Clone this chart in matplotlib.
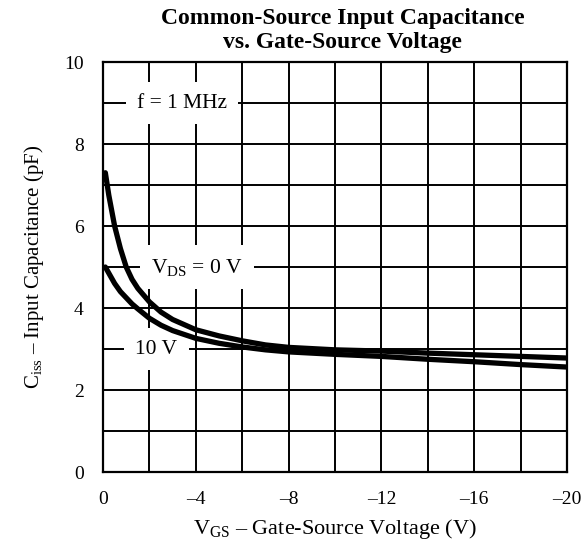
import numpy as np
import matplotlib
matplotlib.use("Agg")
import matplotlib.pyplot as plt

plt.rcParams['font.family'] = ['Liberation Serif', 'DejaVu Serif']
plt.rcParams['mathtext.fontset'] = 'custom'
plt.rcParams['mathtext.rm'] = 'Liberation Serif'
plt.rcParams['mathtext.it'] = 'Liberation Serif:italic'

# datos
vgs = [-0.1, -0.25, -0.5, -0.75, -1, -1.25, -1.5, -2, -2.5, -3, -4, -5, -6, -7, -8,
       -10, -12, -14, -16, -18, -20]
c_vds0 = [7.3, 6.75, 6.0, 5.45, 5.0, 4.7, 4.48, 4.15, 3.9, 3.72, 3.47, 3.32, 3.2, 3.1, 3.04,
          2.98, 2.95, 2.9, 2.86, 2.82, 2.78]
c_vds10 = [5.0, 4.85, 4.6, 4.4, 4.25, 4.1, 3.98, 3.75, 3.58, 3.45, 3.26, 3.14, 3.05, 2.98, 2.93,
           2.87, 2.82, 2.75, 2.69, 2.62, 2.56]

xticks = [0, -4, -8, -12, -16, -20]
xtick_labels = ["0", "–4", "–8", "–12", "–16", "–20"]
yticks = [0, 2, 4, 6, 8, 10]

fig = plt.figure(figsize=(5.83, 5.54), dpi=100)
ax = fig.add_axes([0.1767, 0.148, 0.796, 0.740])

ax.set_xlim(0, -20)
ax.set_ylim(0, 10)
for xv in np.arange(-2, -20, -2):
    ax.axvline(xv, color='black', lw=1.4, zorder=1)
for yv in np.arange(1, 10, 1):
    ax.axhline(yv, color='black', lw=1.4, zorder=1)
ax.set_xticks(xticks)
ax.set_xticklabels(xtick_labels)
ax.set_yticks(yticks)
ax.tick_params(which='both', length=0, labelsize=14)
ax.tick_params(axis='x', pad=14)
ax.tick_params(axis='y', pad=14)
for s in ax.spines.values():
    s.set_linewidth(1.6)

ax.plot(vgs, c_vds0, color='black', lw=3.8, solid_capstyle='round', zorder=5)
ax.plot(vgs, c_vds10, color='black', lw=3.8, solid_capstyle='round', zorder=5)

box = dict(facecolor='white', edgecolor='none', pad=8)
ax.text(-3.4, 9, "f = 1 MHz", ha='center', va='center', fontsize=15.5, bbox=box, zorder=4)
ax.text(-4.05, 5, r"$\mathrm{V_{DS}}$ = 0 V", ha='center', va='center', fontsize=15.5, bbox=box, zorder=4)
ax.text(-2.3, 3, "10 V", ha='center', va='center', fontsize=15.5, bbox=box, zorder=4)

fig.text(0.588, 0.966, "Common-Source Input Capacitance", ha='center', va='center',
         fontsize=17, fontweight='bold')
fig.text(0.588, 0.923, "vs. Gate-Source Voltage", ha='center', va='center',
         fontsize=17, fontweight='bold')

ax.set_xlabel(r"$\mathrm{V_{GS}}$ – Gate-Source Voltage (V)", fontsize=16, labelpad=6)
ax.set_ylabel(r"$\mathrm{C_{iss}}$ – Input Capacitance (pF)", fontsize=15, labelpad=13)

fig.savefig("out.png", dpi=100)
